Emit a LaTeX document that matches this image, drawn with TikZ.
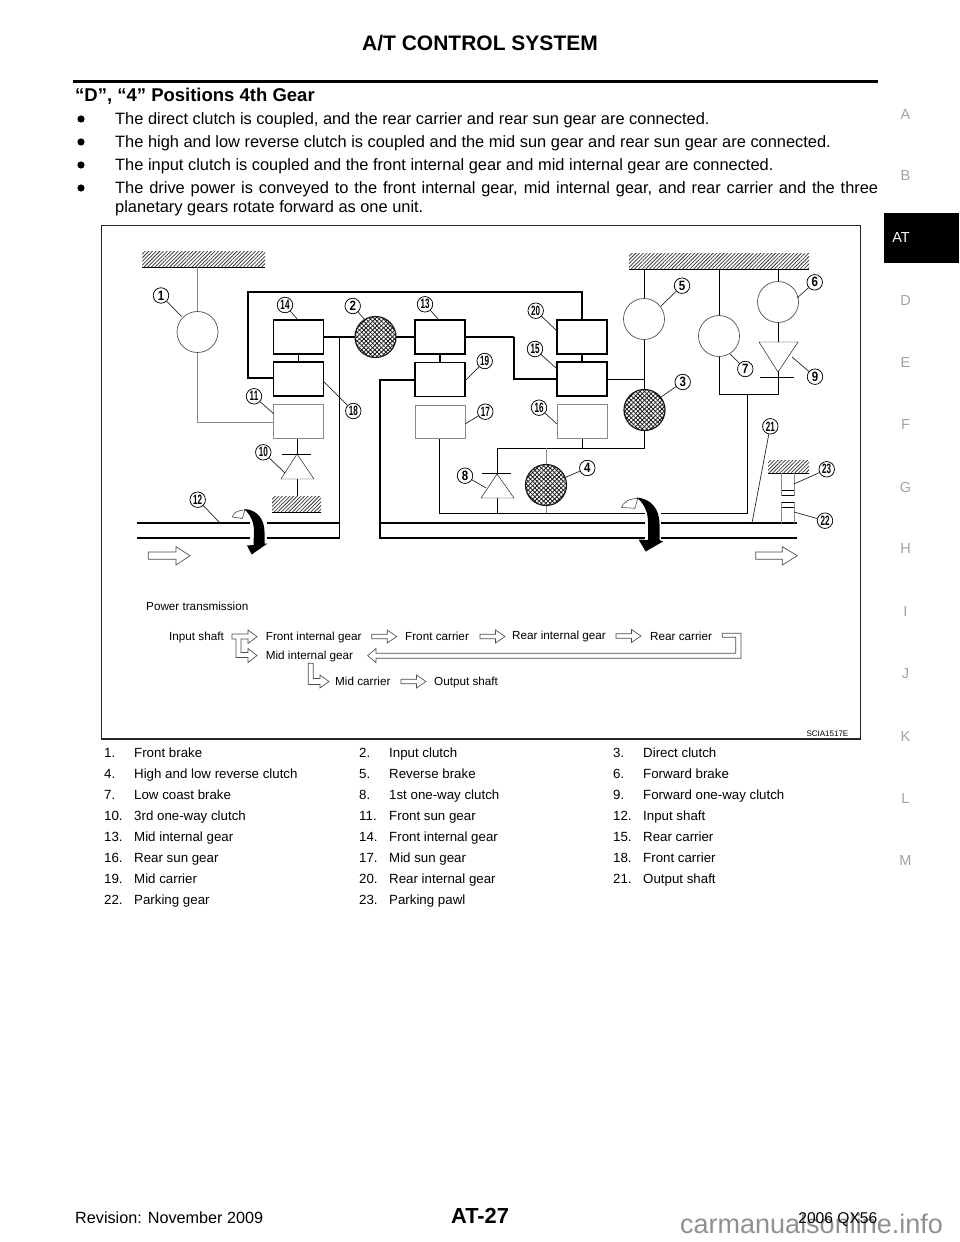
\documentclass[tikz,border=0pt]{standalone}
\usepackage{fontspec}
\usepackage{graphicx}
\setmainfont{Liberation Sans}
\usetikzlibrary{patterns.meta}
\definecolor{thin}{HTML}{505050}
\definecolor{pale}{HTML}{8A8A8A}
\definecolor{sideg}{HTML}{A0A0A0}
\definecolor{wmark}{HTML}{909090}
\newcommand{\fsz}[1]{\fontsize{#1}{#1}\selectfont}
\newcommand{\nar}[1]{\scalebox{0.6}[1]{#1}}
\newcommand{\nas}[1]{\scalebox{0.85}[1]{#1}}
\newcommand{\callout}[5]{%
  \node[callout] (c#1) at (#2,#3) {\ifnum#1>9 \nar{#1}\else \nas{#1}\fi};
  \coordinate (t#1) at (#4,#5);
  \draw[leader] (c#1) -- (t#1);}
\newcommand{\ground}[4]{%
  \path[pattern={Lines[angle=45,distance=2.6pt,line width=0.75pt]},pattern color=black!80] (#1,#2) rectangle (#3,#4);
  \coordinate (ga#1) at (#1,#4); \coordinate (gb#1) at (#3,#4);
  \draw[thinline] (ga#1) -- (gb#1);}
\newcommand{\crosshatch}[1]{%
  \path[pattern={Lines[angle=45,distance=3.1pt,line width=0.8pt]},pattern color=black!90] (#1) circle (20.5);
  \path[pattern={Lines[angle=-45,distance=3.1pt,line width=0.8pt]},pattern color=black!90] (#1) circle (20.5);
  \draw[line width=1.2pt,black!90] (#1) circle (20.5);}
\newcommand{\smallarrow}[2]{%
  \draw[hollow] (#1,#2-2.3) -- (#1+15.5,#2-2.3) -- (#1+15.5,#2-6.5) -- (#1+25,#2) -- (#1+15.5,#2+6.5) -- (#1+15.5,#2+2.3) -- (#1,#2+2.3) -- cycle;}
\newcommand{\legenditem}[4]{\node[txt,font=\fsz{13.3}] (l#3) at (#1,#2) {\makebox[30pt][l]{#3.}#4};}
\tikzset{
  txt/.style={inner sep=0pt,anchor=base west,text=black},
  thickline/.style={line width=1.35pt,black},
  thinline/.style={line width=0.7pt,thin},
  paleline/.style={line width=0.7pt,pale},
  leader/.style={line width=0.7pt,black!85},
  callout/.style={circle,draw=black,line width=0.75pt,fill=white,minimum size=15.5pt,inner sep=0pt,font=\fsz{13.5}\bfseries},
  thickbox/.style={rectangle,draw=black,line width=1.35pt,minimum width=50pt,minimum height=34pt,inner sep=0pt,fill=white},
  palebox/.style={rectangle,draw=pale,line width=0.7pt,minimum width=50pt,minimum height=33.5pt,inner sep=0pt,fill=white},
  wheel/.style={circle,draw=thin,line width=0.7pt,minimum size=41pt,inner sep=0pt,fill=white},
  hollow/.style={line width=0.65pt,draw=black!70,fill=white,line join=miter},
  sideletter/.style={inner sep=0pt,anchor=center,font=\fsz{14.5},text=sideg},
}
\begin{document}
\begin{tikzpicture}[x=1pt,y=-1pt]
\useasboundingbox (0,0) rectangle (960,1242);
% page furniture
\node[inner sep=0pt,anchor=base,font=\fsz{21}\bfseries] (title) at (480,50.5) {A/T CONTROL SYSTEM};
\coordinate (ruleL) at (73,81.5); \coordinate (ruleR) at (878,81.5);
\draw[line width=2.5pt,black] (ruleL) -- (ruleR);
\node[txt,font=\fsz{18.5}\bfseries] (heading) at (75,101) {“D”, “4” Positions 4th Gear};
\fill (81,119) circle (3.6) (81,142) circle (3.6) (81,165) circle (3.6) (81,188) circle (3.6);
\node[txt,font=\fsz{16.4}] (b1) at (115,124.5) {The direct clutch is coupled, and the rear carrier and rear sun gear are connected.};
\node[txt,font=\fsz{16.4}] (b2) at (115,147) {The high and low reverse clutch is coupled and the mid sun gear and rear sun gear are connected.};
\node[txt,font=\fsz{16.4}] (b3) at (115,170) {The input clutch is coupled and the front internal gear and mid internal gear are connected.};
\node[txt,font=\fsz{16.4}] (b4) at (115,193) {\makebox[763pt][s]{The drive power is conveyed to the front internal gear, mid internal gear, and rear carrier and the three}};
\node[txt,font=\fsz{16.4}] (b5) at (115,212) {planetary gears rotate forward as one unit.};
% side tab
\fill[black] (884,213) rectangle (959,263);
\node[inner sep=0pt,font=\fsz{14.5},text=white] (tab) at (901,238) {AT};
\foreach \l/\y in {A/115,B/176,D/301,E/363,F/425,G/488,H/549,I/612,J/674,K/737,L/799,M/861}
  \node[sideletter] (side\l) at (905.5,\y) {\l};
% frame
\draw[line width=1.6pt,black!85] (101.5,225.5) rectangle (860.5,739);
% grounds
\ground{142}{251}{265}{267}
\ground{629}{253}{809}{269}
\ground{272}{496}{321}{512}
\ground{768}{460}{809}{473}
% named junctions
\coordinate (g1) at (197.5,267);
\coordinate (g5) at (644.5,269);
\coordinate (g7) at (719.5,269);
\coordinate (g6) at (778,269);
\coordinate (tl) at (248,292);
\coordinate (j14) at (339.5,337);
\coordinate (j13) at (514,337);
\coordinate (shaftA) at (137,523);
\coordinate (shaftAe) at (339.5,523);
\coordinate (shaftB) at (137,538);
\coordinate (shaftBe) at (339.5,538);
\coordinate (sh2a) at (380,523);
\coordinate (sh2ae) at (797,523);
\coordinate (sh2b) at (380,538);
\coordinate (sh2be) at (797,538);
\coordinate (j19) at (380,380);
\coordinate (j1) at (197.5,422);
\coordinate (jb) at (439.5,513);
\coordinate (jc) at (747,513);
\coordinate (jd) at (747,394);
\coordinate (je) at (719.5,394);
\coordinate (jf) at (778,394);
\coordinate (jg) at (644.5,379);
\coordinate (jh) at (644.5,448);
\coordinate (ji) at (582,448);
\coordinate (jj) at (546,448);
\coordinate (jk) at (497,448);
\coordinate (jl) at (497,513);
\coordinate (jm) at (546,513);
\coordinate (gr10) at (297,496);
% thin connectors first
\draw[paleline] (g1) -- (j1) -- (274,422);
\draw[thinline] (g5) -- (jg) -- (jh) -- (jk) -- (jl);
\draw[paleline] (jj) -- (jm);
\draw[thinline] (g7) -- (je) -- (jf) -- (g6);
\draw[thinline] (jd) -- (jc) -- (jb) -- (439.5,438);
\draw[thinline] (297,438) -- (gr10);
\draw[thinline] (ji) -- (582,438);
\draw[thinline] (607,379) -- (jg);
% thick connectors
\draw[thickline] (274,378) -| (tl) -| (582,320);
\draw[thickline] (j14) -- (shaftBe) -- (shaftB);
\draw[thickline] (shaftA) -- (shaftAe);
\draw[thickline] (j13) |- (557,379);
\draw[thickline] (323,337) -- (415,337);
\draw[thickline] (465,337) -- (j13);
\draw[thickline] (415,380) -- (j19) -- (sh2b) -- (sh2be);
\draw[thickline] (sh2a) -- (sh2ae);
% boxes
\node[thickbox] (b14) at (298.5,337) {};
\node[thickbox] (b18) at (298.5,379) {};
\node[palebox]  (b11) at (298.5,421.5) {};
\node[thickbox] (b13) at (440,337) {};
\node[thickbox] (b19) at (440,379.5) {};
\node[palebox]  (b17) at (440,422) {};
\node[thickbox] (b20) at (582,337) {};
\node[thickbox] (b15) at (582,379) {};
\node[palebox]  (b16) at (582,421.5) {};
\draw[thickline] (b14) -- (b18);
\draw[thickline] (b13) -- (b19);
\draw[thickline] (b20) -- (b15);
% wheels
\node[wheel] (w1) at (197.5,332) {};
\node[wheel] (w5) at (644,319) {};
\node[wheel] (w7) at (719,336) {};
\node[wheel] (w6) at (778,302) {};
\coordinate (w2) at (375.5,337);
\coordinate (w3) at (644.5,410);
\coordinate (w4) at (546,485);
\fill[white] (w2) circle (20.5) (w3) circle (20.5) (w4) circle (20.5);
\crosshatch{w2}
\crosshatch{w3}
\crosshatch{w4}
% one-way clutches
\draw[thinline,fill=white] (297,454) -- (314,479) -- (281,479) -- cycle;
\draw[thinline] (282,454) -- (311,454);
\draw[thinline,fill=white] (497,474) -- (514,498) -- (481,498) -- cycle;
\draw[thinline] (482,473) -- (511,473);
\draw[thinline,fill=white] (778,372) -- (798,342) -- (759,342) -- cycle;
\draw[thinline] (760,377) -- (794,377);
% parking pawl and gear
\draw[paleline] (781.5,473) -- (781.5,495) -- (794,495) -- (794,473);
\draw[thinline] (781.5,490) -- (794,490);
\draw[thinline] (781.5,495) -- (794,495);
\draw[paleline] (781.5,523) -- (781.5,502) -- (794,502) -- (794,523);
\draw[thinline] (781.5,507) -- (794,507);
\draw[thinline] (781.5,502) -- (794,502);
% rotation arrows
\draw[line width=0.6pt,black!70,fill=white] (232.3,517) .. controls (234,513) and (236,510.5) .. (245,510) -- (242.3,518.5) -- cycle;
\fill[white] (250,514) rectangle (267,545);
\fill[black] (244,509) .. controls (257,509.5) and (264.5,519) .. (264.5,532) -- (264.5,543.5) -- (267.5,543.5) -- (251.7,554.5) -- (247,545.5) -- (253.5,545) -- (254,531) .. controls (254,522) and (250,514) .. (244,509) -- cycle;
\draw[line width=0.6pt,black!70,fill=white] (621.7,507.5) .. controls (623,503) and (627,499) .. (637.7,498.3) -- (635,508.3) -- cycle;
\fill[white] (645,510) rectangle (661,541);
\fill[black] (636.5,497.5) .. controls (651,498.5) and (659.5,509) .. (659.5,524) -- (659.5,540) -- (663,541.5) -- (645.7,551.5) -- (638.5,539.5) -- (648,540) -- (648,522) .. controls (648,512) and (644,503) .. (636.5,497.5) -- cycle;
% flow arrows
\draw[hollow] (148.3,552) -- (176,552) -- (176,546.7) -- (190,555.7) -- (176,565) -- (176,559.3) -- (148.3,559.3) -- cycle;
\draw[hollow] (755.7,552) -- (782.3,552) -- (782.3,546.7) -- (797.3,555.7) -- (782.3,565) -- (782.3,559.3) -- (755.7,559.3) -- cycle;
% call-outs
\callout{1}{161}{295.5}{181.7}{316.7}
\callout{2}{352.7}{306}{365}{320}
\callout{3}{682.7}{382}{661}{397}
\callout{4}{587.3}{468}{564}{478}
\callout{5}{682}{285.7}{661}{306}
\callout{6}{814.7}{282.3}{797}{298}
\callout{7}{745.3}{369}{730}{354}
\callout{8}{465}{475.7}{486}{488}
\callout{9}{815}{376.7}{792}{357}
\callout{10}{263.3}{452.3}{285}{473}
\callout{11}{254}{396.3}{274}{414}
\callout{12}{197.7}{499.7}{220}{523}
\callout{13}{425}{304.3}{439}{320}
\callout{14}{285}{305}{298}{320}
\callout{15}{535}{349}{557}{369}
\callout{16}{539}{407.7}{557}{424}
\callout{17}{485.3}{411.7}{465}{424}
\callout{18}{353.3}{411}{323}{381}
\callout{19}{484.7}{361}{465}{381}
\callout{20}{535.7}{310.7}{557}{331}
\callout{21}{770.3}{426.3}{752}{523}
\callout{22}{825}{520.7}{794}{512}
\callout{23}{826.7}{469.3}{794}{484}
% power transmission legend
\node[txt,font=\fsz{11.7}] (pt) at (146,610) {Power transmission};
\node[txt,font=\fsz{11.7}] (p1) at (169,640.5) {Input shaft};
\node[txt,font=\fsz{11.7}] (p2) at (265.7,640) {Front internal gear};
\node[txt,font=\fsz{11.7}] (p3) at (405,640) {Front carrier};
\node[txt,font=\fsz{11.7}] (p4) at (512,639.5) {Rear internal gear};
\node[txt,font=\fsz{11.7}] (p5) at (650,640.5) {Rear carrier};
\node[txt,font=\fsz{11.7}] (p6) at (265.7,659.5) {Mid internal gear};
\node[txt,font=\fsz{11.7}] (p7) at (335,685) {Mid carrier};
\node[txt,font=\fsz{11.7}] (p8) at (434,685) {Output shaft};
\draw[hollow] (232,634) -- (248,634) -- (248,630) -- (257,636.7) -- (248,643.5) -- (248,639) -- (241,639) -- (241,652.5) -- (248,652.5) -- (248,648.5) -- (257,655.5) -- (248,662.5) -- (248,657.5) -- (236,657.5) -- (236,639) -- (232,639) -- cycle;
\smallarrow{371.7}{636.5}
\smallarrow{480}{636.5}
\smallarrow{616}{636}
\smallarrow{401}{681.5}
\draw[hollow] (308.3,663.3) -- (313.3,663.3) -- (313.3,678.5) -- (320,678.5) -- (320,675) -- (329,681.5) -- (320,688) -- (320,684.5) -- (308.3,684.5) -- cycle;
\draw[hollow] (722.3,633.3) -- (741,633.3) -- (741,658.3) -- (376,658.3) -- (376,662.5) -- (367.7,655.7) -- (376,648.5) -- (376,653.3) -- (735.7,653.3) -- (735.7,637.3) -- (722.3,637.3) -- cycle;
\node[inner sep=0pt,anchor=base east,font=\fsz{8}] (code) at (848.5,736) {SCIA1517E};
% parts table
\legenditem{104}{757.5}{1}{Front brake}
\legenditem{359}{757.5}{2}{Input clutch}
\legenditem{613}{757.5}{3}{Direct clutch}
\legenditem{104}{778.5}{4}{High and low reverse clutch}
\legenditem{359}{778.5}{5}{Reverse brake}
\legenditem{613}{778.5}{6}{Forward brake}
\legenditem{104}{799.5}{7}{Low coast brake}
\legenditem{359}{799.5}{8}{1st one-way clutch}
\legenditem{613}{799.5}{9}{Forward one-way clutch}
\legenditem{104}{820.5}{10}{3rd one-way clutch}
\legenditem{359}{820.5}{11}{Front sun gear}
\legenditem{613}{820.5}{12}{Input shaft}
\legenditem{104}{841.5}{13}{Mid internal gear}
\legenditem{359}{841.5}{14}{Front internal gear}
\legenditem{613}{841.5}{15}{Rear carrier}
\legenditem{104}{862.5}{16}{Rear sun gear}
\legenditem{359}{862.5}{17}{Mid sun gear}
\legenditem{613}{862.5}{18}{Front carrier}
\legenditem{104}{883.5}{19}{Mid carrier}
\legenditem{359}{883.5}{20}{Rear internal gear}
\legenditem{613}{883.5}{21}{Output shaft}
\legenditem{104}{904.5}{22}{Parking gear}
\legenditem{359}{904.5}{23}{Parking pawl}
% footer
\node[inner sep=0pt,anchor=base west,font=\fsz{27},text=wmark] (wm) at (680,1233) {carmanualsonline.info};
\node[inner sep=0pt,anchor=base,font=\fsz{21.8}\bfseries] (page) at (480,1223) {AT-27};
\node[txt,font=\fsz{16.2}] (rev) at (75,1223) {Revision: November 2009};
\node[inner sep=0pt,anchor=base east,font=\fsz{15.6}] (model) at (877.5,1223) {2006 QX56};
\end{tikzpicture}
\end{document}
